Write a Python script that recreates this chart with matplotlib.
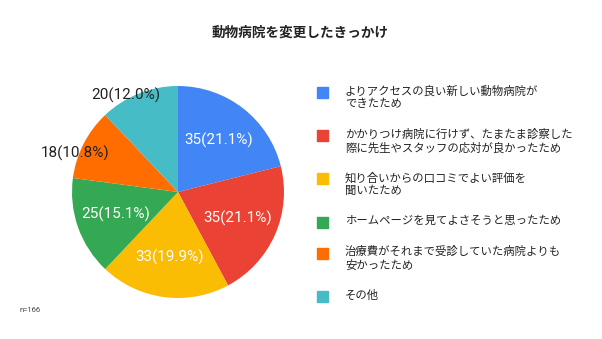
import matplotlib.pyplot as plt
import matplotlib.patches as mpatches
import numpy as np

plt.rcParams['font.family'] = ['Noto Sans CJK JP', 'DejaVu Sans']

# データ
labels = [
    "よりアクセスの良い新しい動物病院が\nできたため",
    "かかりつけ病院に行けず、たまたま診察した\n際に先生やスタッフの応対が良かったため",
    "知り合いからの口コミでよい評価を\n聞いたため",
    "ホームページを見てよさそうと思ったため",
    "治療費がそれまで受診していた病院よりも\n安かったため",
    "その他",
]
counts = [35, 35, 33, 25, 18, 20]
pcts = [21.1, 21.1, 19.9, 15.1, 10.8, 12.0]
colors = ['#4285F4', '#EA4335', '#FBBC04', '#34A853', '#FF6D01', '#46BDC6']
outside = [False, False, False, False, True, True]

W, H = 602, 339
fig = plt.figure(figsize=(W / 100, H / 100), dpi=100)

# 円グラフ (中心 178,192 px / 半径 106 px)
cx, cy, r = 178, 192, 106
ax = fig.add_axes([(cx - r) / W, (H - cy - r) / H, 2 * r / W, 2 * r / H])
wedges, _ = ax.pie(counts, colors=colors, startangle=90, counterclock=False,
                   wedgeprops=dict(linewidth=0))
ax.set_xlim(-1, 1)
ax.set_ylim(-1, 1)
ax.set_aspect('equal')
ax.axis('off')

for w, c, p, out in zip(wedges, counts, pcts, outside):
    ang = np.deg2rad((w.theta1 + w.theta2) / 2)
    if out:
        ang += np.deg2rad(6.5)
        d, col = 1.035, '#222222'
    else:
        d, col = 0.62, 'white'
    ax.text(d * np.cos(ang), d * np.sin(ang), f"{c}({p:.1f}%)",
            ha='center', va='center', color=col, fontsize=11,
            family=['Roboto', 'DejaVu Sans'], clip_on=False)

# タイトル
fig.text(300 / W, 1 - 33 / H, "動物病院を変更したきっかけ", ha='center', va='center',
         fontsize=9.8, fontweight='bold', color='#222222')

# 凡例
y = 92
for lab, col in zip(labels, colors):
    nl = lab.count("\n") + 1
    fig.patches.append(mpatches.Rectangle((317 / W, 1 - (y + 5.5) / H), 11 / W, 11 / H,
                                          transform=fig.transFigure, color=col))
    fig.text(345 / W, 1 - (y - 7) / H, lab, ha='left', va='top', fontsize=8.2,
             linespacing=1.33, color='#222222')
    y += 13 * nl + 17.5

fig.text(20 / W, 1 - 310 / H, "n=166", ha='left', va='center', fontsize=5.5,
         color='#444444', family=['Roboto', 'DejaVu Sans'])

fig.savefig("out.png", dpi=100, facecolor='white')
